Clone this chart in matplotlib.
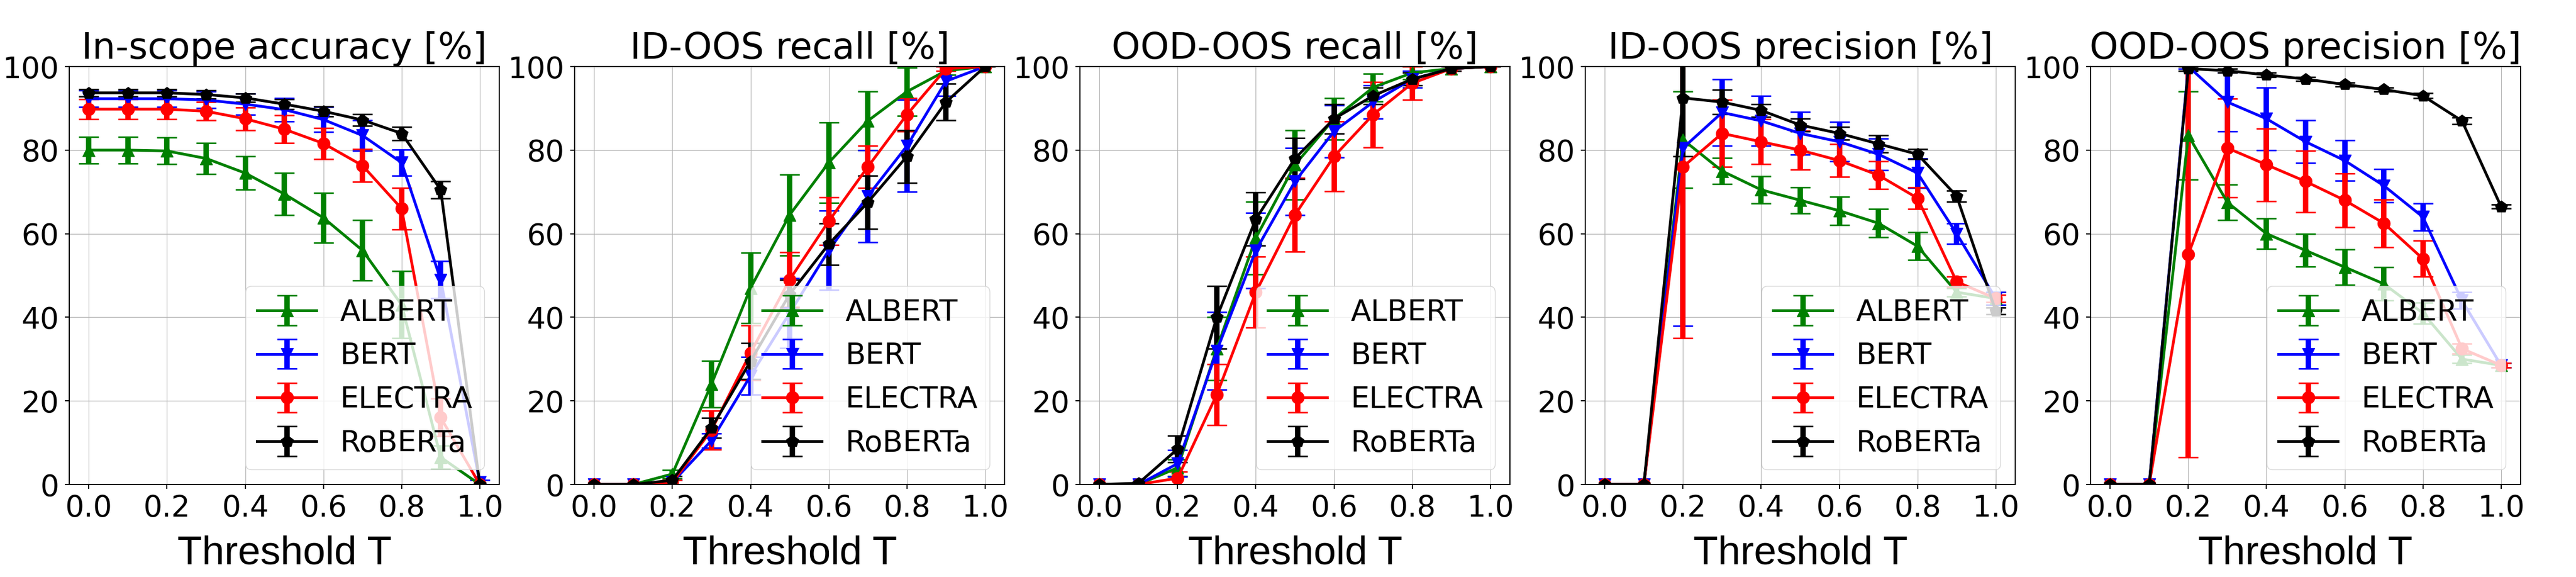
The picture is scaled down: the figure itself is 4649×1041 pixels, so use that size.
import matplotlib
matplotlib.use("Agg")
import matplotlib.pyplot as plt

thresholds = [0.0, 0.1, 0.2, 0.3, 0.4, 0.5, 0.6, 0.7, 0.8, 0.9, 1.0]
models = ["ALBERT", "BERT", "ELECTRA", "RoBERTa"]
colors = ["green", "blue", "red", "black"]
markers = ["^", "v", "o", "p"]

# In-scope accuracy
acc_albert = [80, 80, 79.8, 78, 74.5, 69.5, 63.8, 56, 43, 6.5, 0]
acc_albert_err = [3.2, 3.2, 3.2, 3.7, 4, 5, 6, 7.2, 8, 2.8, 0]
acc_bert = [92.3, 92.3, 92.3, 92, 91, 89.7, 87.3, 83.5, 77, 49, 0.5]
acc_bert_err = [2, 2, 2, 2, 2.5, 2.8, 3, 3.7, 3.1, 4.4, 0.5]
acc_electra = [89.8, 89.8, 89.8, 89.3, 87.5, 85, 81.6, 76.3, 66, 16, 0]
acc_electra_err = [2.4, 2.4, 2.4, 2.2, 2.7, 3.3, 3.7, 3.9, 5, 4.5, 0]
acc_roberta = [93.7, 93.7, 93.7, 93.3, 92.5, 91, 89.3, 87.2, 84, 70.5, 0]
acc_roberta_err = [0.8, 0.8, 0.8, 1, 1, 1.2, 1.2, 1.4, 1.6, 2.1, 0]

# ID-OOS recall
idr_albert = [0, 0, 2.5, 24, 47, 64.5, 77, 87, 94, 99, 100]
idr_albert_err = [0, 0, 1, 5.6, 8.4, 9.7, 9.6, 7, 5.8, 1, 0]
idr_bert = [0, 0, 0.5, 10.5, 26, 41, 56, 69, 81, 96.5, 100]
idr_bert_err = [0, 0, 0.5, 1.7, 4.5, 8.4, 9.5, 11, 11, 3.5, 0]
idr_electra = [0, 0, 0.5, 13, 31.5, 49, 63, 76, 88.5, 99.5, 100]
idr_electra_err = [0, 0, 0.5, 4.6, 6.6, 6.6, 5.7, 5, 4, 0.5, 0]
idr_roberta = [0, 0, 1, 13.5, 29.5, 45.5, 57.5, 67.5, 78.5, 91.5, 100]
idr_roberta_err = [0, 0, 1, 2.4, 4.3, 3.5, 5, 6.4, 6.3, 4.4, 0]

# OOD-OOS recall
odr_albert = [0, 0, 4, 32.5, 59, 76.5, 87.5, 95, 98.5, 99.5, 100]
odr_albert_err = [0, 0, 2, 7.5, 8.7, 8.3, 5, 3.3, 1.5, 0.5, 0]
odr_bert = [0, 0, 5, 32, 56, 72.5, 84.5, 91.5, 97, 99.5, 100]
odr_bert_err = [0, 0, 3.2, 9.3, 9, 8, 6.2, 4, 2, 0.5, 0]
odr_electra = [0, 0, 1.5, 21.5, 46, 64.5, 78.5, 88.5, 96, 99.5, 100]
odr_electra_err = [0, 0, 1.5, 7.3, 8.5, 8.8, 8.4, 7.8, 4, 0.5, 0]
odr_roberta = [0, 0.3, 8.5, 40, 63.5, 78, 87.5, 93, 97, 99.5, 100]
odr_roberta_err = [0, 0, 3.2, 7.5, 6.4, 4.9, 3.5, 2, 1.5, 0.5, 0]

# ID-OOS precision
idp_albert = [0, 0, 82.5, 75, 70.5, 68, 65.5, 62.5, 57, 46, 44.5]
idp_albert_err = [0, 0, 11.5, 3.1, 3.2, 3.1, 3.4, 3.4, 3.3, 1, 1.5]
idp_bert = [0, 0, 80.5, 89, 87, 84, 82, 79, 74.5, 60, 44.5]
idp_bert_err = [0, 0, 42.5, 8, 6, 5.1, 4.7, 3.8, 3.5, 2.5, 1.5]
idp_electra = [0, 0, 76, 84, 82, 80, 77.5, 74, 68.5, 48.5, 44.5]
idp_electra_err = [0, 0, 41, 8, 5.4, 4.6, 3.9, 3.3, 2.6, 1.3, 0.8]
idp_roberta = [0, 0, 92.5, 91.5, 89.5, 86, 84, 81.5, 79, 69, 41.5]
idp_roberta_err = [0, 0, 14, 2.9, 1.5, 1.5, 1.5, 2, 1.2, 1.3, 0.8]

# OOD-OOS precision
odp_albert = [0, 0, 83.5, 67.5, 60, 56, 52, 48, 41, 30, 28.5]
odp_albert_err = [0, 0, 10.5, 4.2, 3.6, 3.9, 4.2, 4, 2.5, 1, 0.5]
odp_bert = [0, 0, 100, 91.5, 87.5, 82, 77.5, 71.5, 64, 44, 28.5]
odp_bert_err = [0, 0, 0.5, 7, 7.5, 5.1, 4.8, 4, 3.3, 2, 0.5]
odp_electra = [0, 0, 55, 80.5, 76.5, 72.5, 68, 62.5, 54, 32.5, 28.5]
odp_electra_err = [0, 0, 48.5, 11.8, 8.7, 7.4, 6.4, 5.7, 4.3, 1.2, 0.5]
odp_roberta = [0, 0, 99.5, 99, 98, 97, 95.7, 94.5, 93, 87, 66.5]
odp_roberta_err = [0, 0, 0.5, 0.5, 0.5, 0.5, 0.5, 0.5, 0.6, 0.8, 0.5]

panels = [
    ("In-scope accuracy [%]",
     [acc_albert, acc_bert, acc_electra, acc_roberta],
     [acc_albert_err, acc_bert_err, acc_electra_err, acc_roberta_err]),
    ("ID-OOS recall [%]",
     [idr_albert, idr_bert, idr_electra, idr_roberta],
     [idr_albert_err, idr_bert_err, idr_electra_err, idr_roberta_err]),
    ("OOD-OOS recall [%]",
     [odr_albert, odr_bert, odr_electra, odr_roberta],
     [odr_albert_err, odr_bert_err, odr_electra_err, odr_roberta_err]),
    ("ID-OOS precision [%]",
     [idp_albert, idp_bert, idp_electra, idp_roberta],
     [idp_albert_err, idp_bert_err, idp_electra_err, idp_roberta_err]),
    ("OOD-OOS precision [%]",
     [odp_albert, odp_bert, odp_electra, odp_roberta],
     [odp_albert_err, odp_bert_err, odp_electra_err, odp_roberta_err]),
]

fig, axes = plt.subplots(1, 5, figsize=(46.49, 10.41), dpi=100)
fig.subplots_adjust(left=0.0269, right=0.9785, bottom=0.1604, top=0.8847, wspace=0.175)

for ax, (title, means, errs) in zip(axes, panels):
    for name, c, m, y, e in zip(models, colors, markers, means, errs):
        ax.errorbar(thresholds, y, yerr=e, color=c, marker=m, markersize=16,
                    linewidth=3.6, elinewidth=7, capsize=13, capthick=2, label=name)
    ax.set_ylim(0, 100)
    ax.set_xticks([0.0, 0.2, 0.4, 0.6, 0.8, 1.0])
    ax.set_yticks([0, 20, 40, 60, 80, 100])
    ax.grid(True)
    ax.tick_params(labelsize=38.5, length=5.5, width=1.5)
    ax.tick_params(axis="x", pad=7)
    ax.tick_params(axis="y", pad=8)
    for s in ax.spines.values():
        s.set_linewidth(1.5)
    ax.set_title(title, fontsize=47.4, pad=-2)
    ax.set_xlabel("Threshold T", fontsize=52.5, family="Liberation Sans", labelpad=16)
    ax.legend(loc="lower right", fontsize=38.5)

fig.savefig("out.png", dpi=100)
